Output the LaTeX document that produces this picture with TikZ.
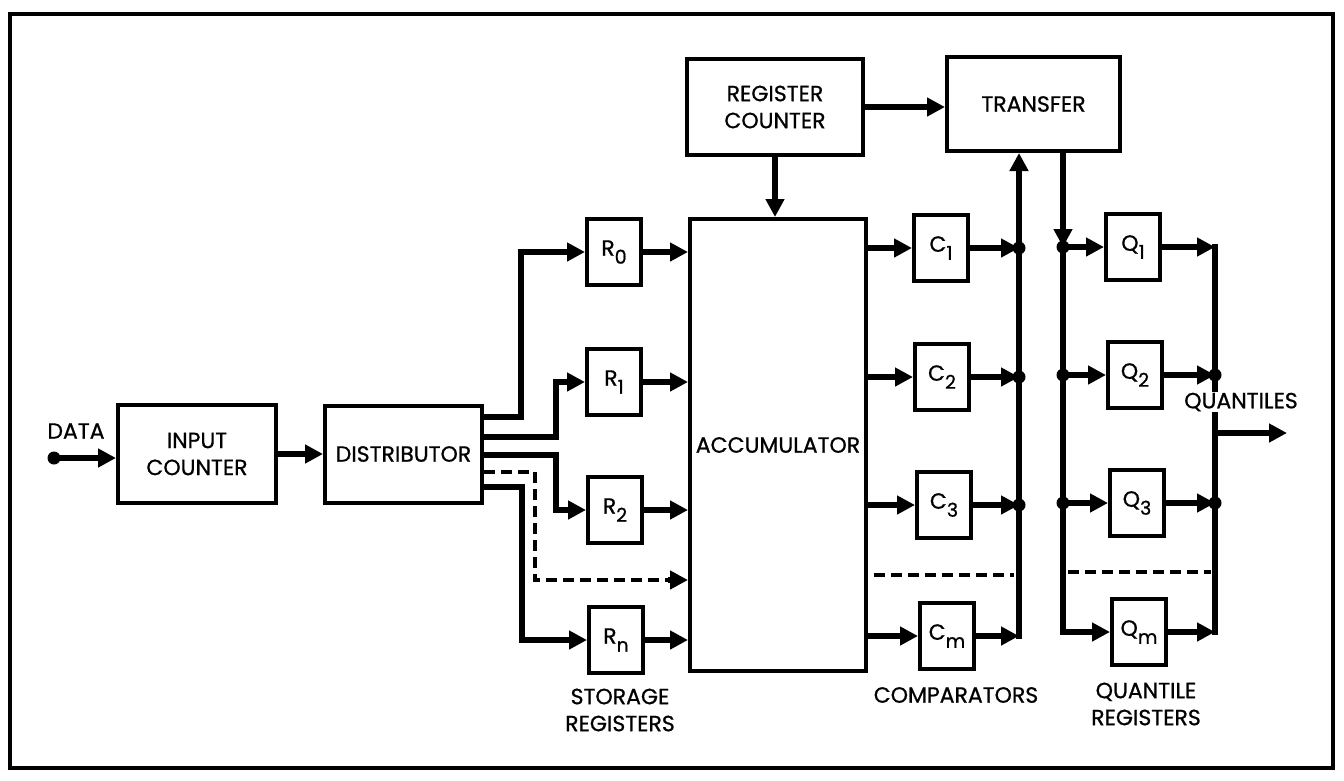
\documentclass[tikz,border=0pt]{standalone}
\usepackage{fontspec}
\newfontfamily\dfont{Poppins}[FakeBold=0.8]
\usetikzlibrary{arrows.meta}
\newcommand{\lblfont}{\dfont\fontsize{22}{27}\selectfont}
\newcommand{\regsub}[2]{#1\raisebox{-8pt}{\fontsize{19}{19}\selectfont #2}}
\begin{document}
\begin{tikzpicture}[x=1pt,y=-1pt,
  box/.style={draw, line width=4pt, inner sep=0pt, align=center, font=\lblfont},
  rbox/.style={box, minimum width=54, minimum height=66},
  conn/.style={line width=5.5pt, -{Triangle[length=18pt,width=18pt]}},
  wire/.style={line width=5.5pt, line cap=rect},
  dsh/.style={line width=4.5pt, dash pattern=on 11pt off 6pt},
  jdot/.style={circle, fill, inner sep=0pt, minimum size=13pt},
  lbl/.style={align=center, font=\lblfont, inner sep=0pt}]
\useasboundingbox (0,0) rectangle (1344,780);
\draw[line width=4.5pt] (10,14) rectangle (1333,768);

% main boxes
\node[box, minimum width=158, minimum height=98] (ic) at (197,454) {INPUT\\COUNTER};
\node[box, minimum width=157, minimum height=97] (dist) at (403.5,454) {DISTRIBUTOR};
\node[box, minimum width=176, minimum height=96] (rc) at (775,107) {REGISTER\\COUNTER};
\node[box, minimum width=173, minimum height=94] (tr) at (1033.5,104) {TRANSFER};
\node[box, minimum width=176, minimum height=452] (acc) at (778,445) {ACCUMULATOR};

% storage registers
\node[rbox] (R0) at (614,252) {\regsub{R}{0}};
\node[rbox] (R1) at (614,382) {\regsub{R}{1}};
\node[rbox] (R2) at (615,510) {\regsub{R}{2}};
\node[rbox] (Rn) at (616,640) {\regsub{R}{n}};

% comparators
\node[rbox] (C1) at (941,248) {\regsub{C}{1}};
\node[rbox] (C2) at (942,377) {\regsub{C}{2}};
\node[rbox] (C3) at (944,505) {\regsub{C}{3}};
\node[rbox] (Cm) at (947,636) {\regsub{C}{m}};

% quantile registers
\node[rbox] (Q1) at (1133,247) {\regsub{Q}{1}};
\node[rbox] (Q2) at (1135,375) {\regsub{Q}{2}};
\node[rbox] (Q3) at (1137,503) {\regsub{Q}{3}};
\node[rbox] (Qm) at (1139,632) {\regsub{Q}{m}};

% labels
\node[lbl] (data) at (76,431) {DATA};
\node[lbl] (stor) at (620,710) {STORAGE\\REGISTERS};
\node[lbl] (comp) at (956,695) {COMPARATORS};
\node[lbl] (qreg) at (1146,704) {QUANTILE\\REGISTERS};

% columns
\coordinate (colA) at (521,0);
\coordinate (colB) at (556,0);
\coordinate (colD) at (535,0);
\coordinate (colE) at (522,0);
\coordinate (cbus) at (1019,0);
\coordinate (qbus) at (1063,0);
\coordinate (obus) at (1215,0);

% data input
\node[jdot] (datain) at (54,458) {};
\draw[conn] (datain.center) -- (datain.center -| ic.west);
\draw[conn] (ic.east |- dist.west) -- (dist.west);

% distributor outputs
\draw[conn] ([yshift=37pt]dist.east) -| (colA |- R0.west) -- (R0.west);
\draw[conn] ([yshift=17pt]dist.east) -| (colB |- R1.west) -- (R1.west);
\draw[conn] ([yshift=-1pt]dist.east) -| (colB |- R2.west) -- (R2.west);
\draw[conn] ([yshift=-33pt]dist.east) -| (colE |- Rn.west) -- (Rn.west);
\coordinate (dashin) at (acc.west |- 0,580);
\draw[dsh] ([yshift=-18pt]dist.east) -| (colD |- dashin) -- ([xshift=-16pt]dashin);
\draw[conn] ([xshift=-20pt]dashin) -- (dashin);

% registers to accumulator
\draw[conn] (R0.east) -- (R0.east -| acc.west);
\draw[conn] (R1.east) -- (R1.east -| acc.west);
\draw[conn] (R2.east) -- (R2.east -| acc.west);
\draw[conn] (Rn.east) -- (Rn.east -| acc.west);

% register counter
\draw[conn] (rc.south) -- (rc.south |- acc.north);
\draw[conn] (rc.east) -- (rc.east -| tr.west);

% accumulator to comparators
\draw[conn] (acc.east |- C1.west) -- (C1.west);
\draw[conn] (acc.east |- C2.west) -- (C2.west);
\draw[conn] (acc.east |- C3.west) -- (C3.west);
\draw[conn] (acc.east |- Cm.west) -- (Cm.west);
\draw[dsh] ([xshift=6pt]acc.east |- 0,575) -- ([xshift=-5pt]cbus |- 0,575);

% comparator bus
\draw[conn] (C1.east) -- (cbus |- C1.east);
\draw[conn] (C2.east) -- (cbus |- C2.east);
\draw[conn] (C3.east) -- (cbus |- C3.east);
\draw[conn] (Cm.east) -- (cbus |- Cm.east);
\draw[conn, line cap=rect] (cbus |- Cm.east) -- (cbus |- tr.south);
\node[jdot] (cj1) at (cbus |- C1.east) {};
\node[jdot] (cj2) at (cbus |- C2.east) {};
\node[jdot] (cj3) at (cbus |- C3.east) {};

% transfer to quantile bus
\draw[conn] (qbus |- tr.south) -- (qbus |- Q1.west);
\draw[wire] (qbus |- Q1.west) -- (qbus |- Qm.west);
\node[jdot] (qj1) at (qbus |- Q1.west) {};
\node[jdot] (qj2) at (qbus |- Q2.west) {};
\node[jdot] (qj3) at (qbus |- Q3.west) {};
\draw[conn] (qj1.center) -- (Q1.west);
\draw[conn] (qj2.center) -- (Q2.west);
\draw[conn] (qj3.center) -- (Q3.west);
\draw[conn] (qbus |- Qm.west) -- (Qm.west);
\draw[dsh] ([xshift=5pt]qbus |- 0,572) -- ([xshift=-4pt]obus |- 0,572);

% output bus
\draw[conn] (Q1.east) -- (obus |- Q1.east);
\draw[conn] (Q2.east) -- (obus |- Q2.east);
\draw[conn] (Q3.east) -- (obus |- Q3.east);
\draw[conn] (Qm.east) -- (obus |- Qm.east);
\draw[wire] (obus |- Q1.east) -- (obus |- Qm.east);
\node[jdot] (oj2) at (obus |- Q2.east) {};
\node[jdot] (oj3) at (obus |- Q3.east) {};
\coordinate (qout) at (1287,433);
\draw[conn] (obus |- qout) -- (qout);
\node[lbl, fill=white, inner ysep=1pt, inner xsep=0pt] (quant) at (1241,402) {QUANTILES};
\end{tikzpicture}
\end{document}
